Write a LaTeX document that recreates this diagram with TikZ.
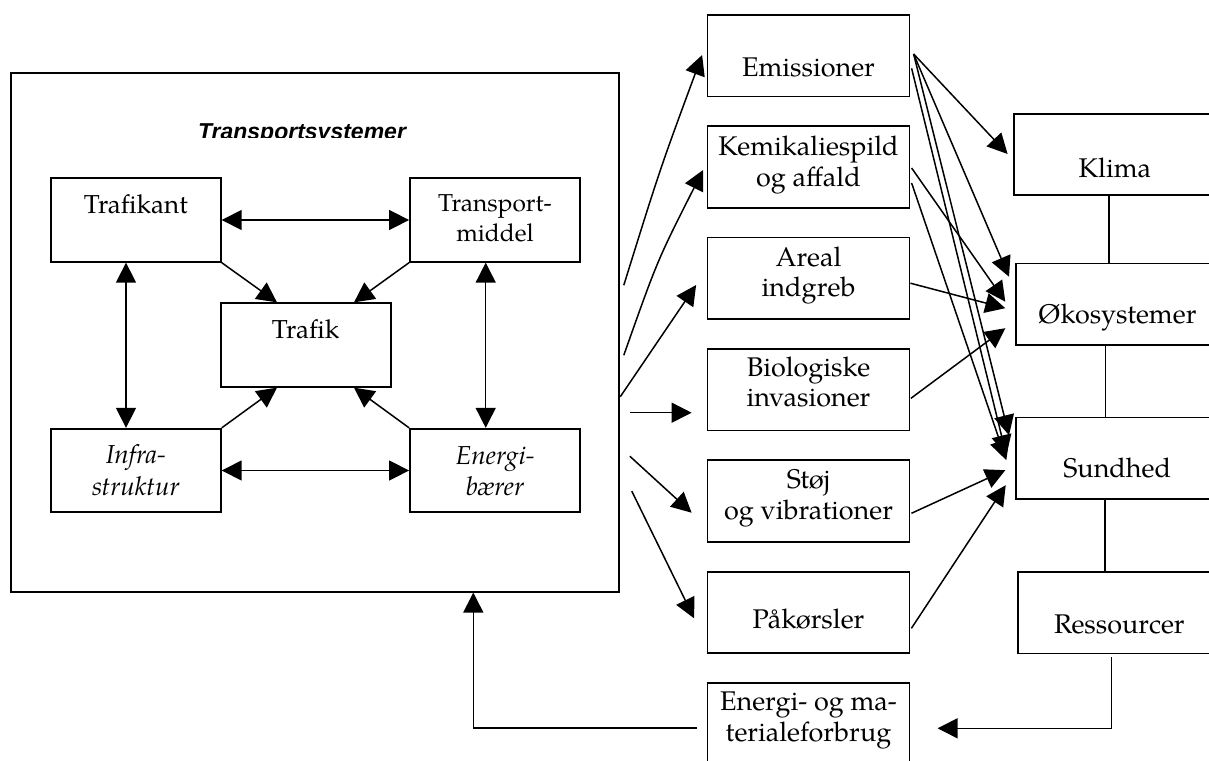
\documentclass[tikz,border=0pt]{standalone}
\usepackage{fontspec}
\setmainfont{texgyrepagella}[Extension=.otf, UprightFont=*-regular, ItalicFont=*-italic, BoldFont=*-bold, BoldItalicFont=*-bolditalic]
\newfontfamily\headfont{Liberation Sans}
\usetikzlibrary{arrows.meta,calc}
\newcommand\twolines[2]{\begin{tabular}[t]{@{}c@{}}#1\\#2\end{tabular}}

\tikzset{
  box/.style={draw, line width=1.8pt, minimum width=202pt, minimum height=81.5pt, inner sep=0pt},
  ibox/.style={draw, line width=1.8pt, minimum width=170pt, minimum height=83.5pt, inner sep=0pt},
  lbl/.style={anchor=base, inner sep=0pt, font=\fontsize{27}{31}\selectfont},
  ilbl/.style={anchor=base, inner sep=0pt, font=\fontsize{26}{31}\selectfont},
  arr/.style={line width=1.5pt, -{Triangle[length=20pt,width=20pt]}},
  dbl/.style={line width=1.5pt, {Triangle[length=20pt,width=20pt]}-{Triangle[length=20pt,width=20pt]}},
  link/.style={line width=1.5pt},
}

\begin{document}
\begin{tikzpicture}[x=1pt,y=-1pt]
\useasboundingbox (0,0) rectangle (1209,760);

% ---- transport system frame and its title
\node[draw, line width=1.8pt, minimum width=608pt, minimum height=519pt, inner sep=0pt] (sys) at (314.9,332.2) {};
\begin{scope}
  \clip (0,100) rectangle (640,137.5);
  \node[anchor=base, inner sep=0pt, font=\headfont\bfseries\itshape\fontsize{23}{27}\selectfont] (title) at (302,139) {Transportsystemer};
\end{scope}

% ---- inner elements of the transport system
\node[ibox] (tk) at (135.8,220) {};
\node[ibox] (tm) at (495,220) {};
\node[ibox] (tf) at (305.6,345) {};
\node[ibox] (ist) at (135.8,470.5) {};
\node[ibox] (eb) at (495,470.5) {};

\node[ilbl] (tk-t) at (tk |- 0,213.5) {Trafikant};
\node[ilbl, font=\fontsize{24.5}{29.5}\selectfont] (tm-t) at (tm |- 0,211.5) {\twolines{Transport-}{middel}};
\node[ilbl] (tf-t) at (tf |- 0,338) {Trafik};
\node[ilbl, font=\itshape\fontsize{26}{32}\selectfont] (ist-t) at (ist |- 0,463) {\twolines{Infra-}{struktur}};
\node[ilbl, font=\itshape\fontsize{26}{31}\selectfont] (eb-t) at (eb |- 0,464) {\twolines{Energi-}{bærer}};

\draw[dbl] (tk.east) -- (tm.west);
\draw[dbl] (ist.east) -- (eb.west);
\draw[dbl] ([xshift=-9.8pt]tk.south) -- ([xshift=-9.8pt]ist.north);
\draw[dbl] ([xshift=-9.3pt]tm.south) -- ([xshift=-9.3pt]eb.north);
\draw[arr] (tk.south east) -- ([xshift=-28.6pt]tf.north);
\draw[arr] (tm.south west) -- ([xshift=48.4pt]tf.north);
\draw[arr] (ist.north east) -- ([xshift=-28.6pt]tf.south);
\draw[arr] (eb.north west) -- ([xshift=48.4pt]tf.south);

% ---- effects
\node[box] (emis) at (808.5,55.8) {};
\node[box] (kemi) at (808.5,167) {};
\node[box] (areal) at (808.5,278.2) {};
\node[box] (bio) at (808.5,389.7) {};
\node[box] (stoj) at (808.5,500.9) {};
\node[box] (pak) at (808.5,612.5) {};
\node[box, minimum height=83pt] (forb) at (808.5,724.2) {};

\node[lbl] (emis-t) at (emis |- 0,76) {Emissioner};
\node[lbl] (kemi-t) at (kemi |- 0,155) {\twolines{Kemikaliespild}{og affald}};
\node[lbl, font=\fontsize{27}{30}\selectfont] (areal-t) at (areal |- 0,266.7) {\twolines{Areal}{indgreb}};
\node[lbl, font=\fontsize{27}{30}\selectfont] (bio-t) at (bio |- 0,376.7) {\twolines{Biologiske}{invasioner}};
\node[lbl] (stoj-t) at (stoj |- 0,488.3) {\twolines{Støj}{og vibrationer}};
\node[lbl] (pak-t) at (pak |- 0,628.3) {Påkørsler};
\node[lbl] (forb-t) at (forb |- 0,710) {\twolines{Energi- og ma-}{terialeforbrug}};

% ---- affected domains
\node[box] (klima) at (1114.8,154.5) {};
\node[box] (oko) at (1117.2,304.2) {};
\node[box] (sund) at (1117.2,458.2) {};
\node[box] (res) at (1119.3,612.8) {};

\node[lbl] (klima-t) at (klima |- 0,177.5) {Klima};
\node[lbl] (oko-t) at (oko |- 0,323.3) {Økosystemer};
\node[lbl] (sund-t) at (sund |- 0,477.5) {Sundhed};
\node[lbl] (res-t) at (res |- 0,633.3) {Ressourcer};

\coordinate (k1) at ([xshift=-5.8pt]klima.south);
\coordinate (o1) at ([xshift=-11.5pt]oko.south);
\coordinate (u1) at ([xshift=-12.2pt]sund.south);
\draw[link] (k1) -- (k1 |- oko.north);
\draw[link] (o1) -- (o1 |- sund.north);
\draw[link] (u1) -- (u1 |- res.north);

% ---- system -> effects
\coordinate (s1) at ([shift={(4,-47)}]sys.east);
\coordinate (s2) at ([shift={(4,23)}]sys.east);
\coordinate (s3) at ([shift={(0.5,64.5)}]sys.east);
\coordinate (s4) at ([shift={(10,80.5)}]sys.east);
\coordinate (s5) at ([shift={(10,124)}]sys.east);
\coordinate (s6) at ([shift={(12,159)}]sys.east);
\coordinate (t1) at ([shift={(-4.5,-0.8)}]emis.west);
\coordinate (t2) at ([shift={(-3.5,3)}]kemi.west);
\coordinate (t3) at ([shift={(-10.5,6.8)}]areal.west);
\coordinate (t4) at ([shift={(-15,23)}]bio.west);
\coordinate (t5) at ([shift={(-15,11.8)}]stoj.west);
\coordinate (t6) at ([shift={(-12.5,5.8)}]pak.west);

\draw[arr] (s1) .. controls ($(s1)!.5!(t1)+(-3,-1)$) .. (t1);
\draw[arr] (s2) .. controls ($(s2)!.5!(t2)+(-6,-2.5)$) .. (t2);
\draw[arr] (s3) -- (t3);
\draw[arr] (s4) -- (t4);
\draw[arr] (s5) -- (t5);
\draw[arr] (s6) -- (t6);

% ---- effects -> domains
\coordinate (e1) at ([shift={(3.2,-1.8)}]emis.east);
\coordinate (e2) at ([shift={(1.2,12.5)}]emis.east);
\coordinate (c1) at ([shift={(1.2,1)}]kemi.east);
\coordinate (c2) at ([shift={(1.2,16)}]kemi.east);
\draw[arr] (e1) -- ([shift={(-5.3,-0.5)}]klima.west);
\draw[arr] (e1) -- ([shift={(-6.3,-27.5)}]oko.west);
\draw[arr] (e1) -- ([shift={(-6.3,-23)}]sund.west);
\draw[arr] (e2) -- ([shift={(-9,-3)}]sund.west);
\draw[arr] (c1) -- ([shift={(-10,-2.5)}]oko.west);
\draw[arr] (c2) -- ([shift={(-9,2)}]sund.west);
\draw[arr] ([shift={(0,5)}]areal.east) -- ([shift={(-10,4)}]oko.west);
\draw[arr] ([shift={(0.5,8.6)}]bio.east) -- ([shift={(-10,24)}]oko.west);
\draw[arr] ([shift={(1,12.4)}]stoj.east) -- ([shift={(-10,12)}]sund.west);
\draw[arr] ([shift={(1,15.8)}]pak.east) -- ([shift={(-9.6,27)}]sund.west);

% ---- resource feedback loop
\coordinate (r1) at ([shift={(-7.6,2.7)}]res.south);
\coordinate (f1) at ([shift={(27.2,4.1)}]forb.east);
\coordinate (f2) at ([shift={(-9.8,4)}]forb.west);
\coordinate (b1) at ([xshift=158.4pt]sys.south);
\draw[arr] (r1) |- (f1);
\draw[arr] (f2) -| (b1);
\end{tikzpicture}
\end{document}
